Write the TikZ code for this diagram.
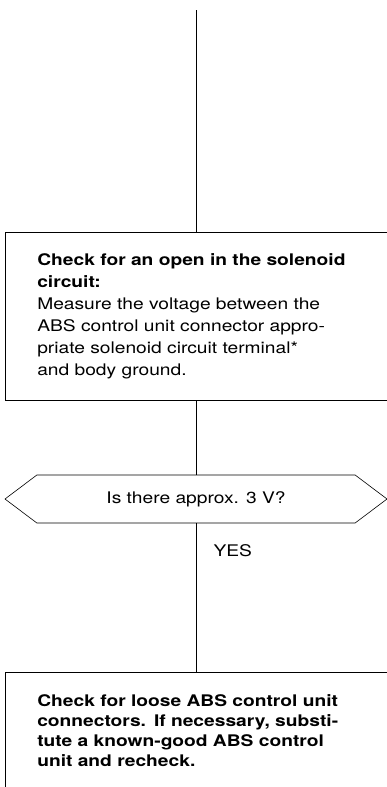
\documentclass[tikz,border=0pt]{standalone}
\usepackage{fontspec}
\setmainfont{TeX Gyre Heros}[FakeStretch=1.2]
\usetikzlibrary{positioning,shapes.symbols}

\newcommand{\fullline}[1]{\makebox[318pt][s]{#1}}

\begin{document}
\begin{tikzpicture}[x=1pt, y=1pt,
box/.style={draw, semithick, anchor=north west, align=left, text width=350pt, inner xsep=32pt, font=\fontsize{16}{22}\selectfont},
query/.style={draw, semithick, signal, signal to=west and east, signal pointer angle=74, minimum width=382pt, minimum height=48pt, inner sep=0pt, font=\fontsize{16}{18}\selectfont},
flow/.style={semithick}
]
\useasboundingbox (0,0) rectangle (387,-787);
\clip (0,0) rectangle (387,-787);

\node[box, minimum height=168pt] (chk) at (5,-232) {%
\textbf{\fullline{Check for an open in the solenoid}}\\
\textbf{circuit:}\\
\fullline{Measure the voltage between the}\\
\fullline{ABS control unit connector appro-}\\
\fullline{priate solenoid circuit terminal*}\\
and body ground.};
\node[query] (q) at (196,-499) {Is there approx. 3 V?};
\node[box, inner ysep=22pt, font=\fontsize{16}{20}\selectfont\bfseries] (fix) at (5,-672) {%
\fullline{Check for loose ABS control unit}\\
\fullline{connectors. If necessary, substi-}\\
\fullline{tute a known-good ABS control}\\
unit and recheck.};
\coordinate (in) at (196,-10);
\node[anchor=west, font=\fontsize{16}{18}\selectfont] (yes) at ([xshift=14pt, yshift=-27pt]q.south) {YES};

\draw[flow] (in) -- (in |- chk.north);
\draw[flow] (q.north |- chk.south) -- (q.north);
\draw[flow] (q.south) -- (q.south |- fix.north);
\end{tikzpicture}
\end{document}
